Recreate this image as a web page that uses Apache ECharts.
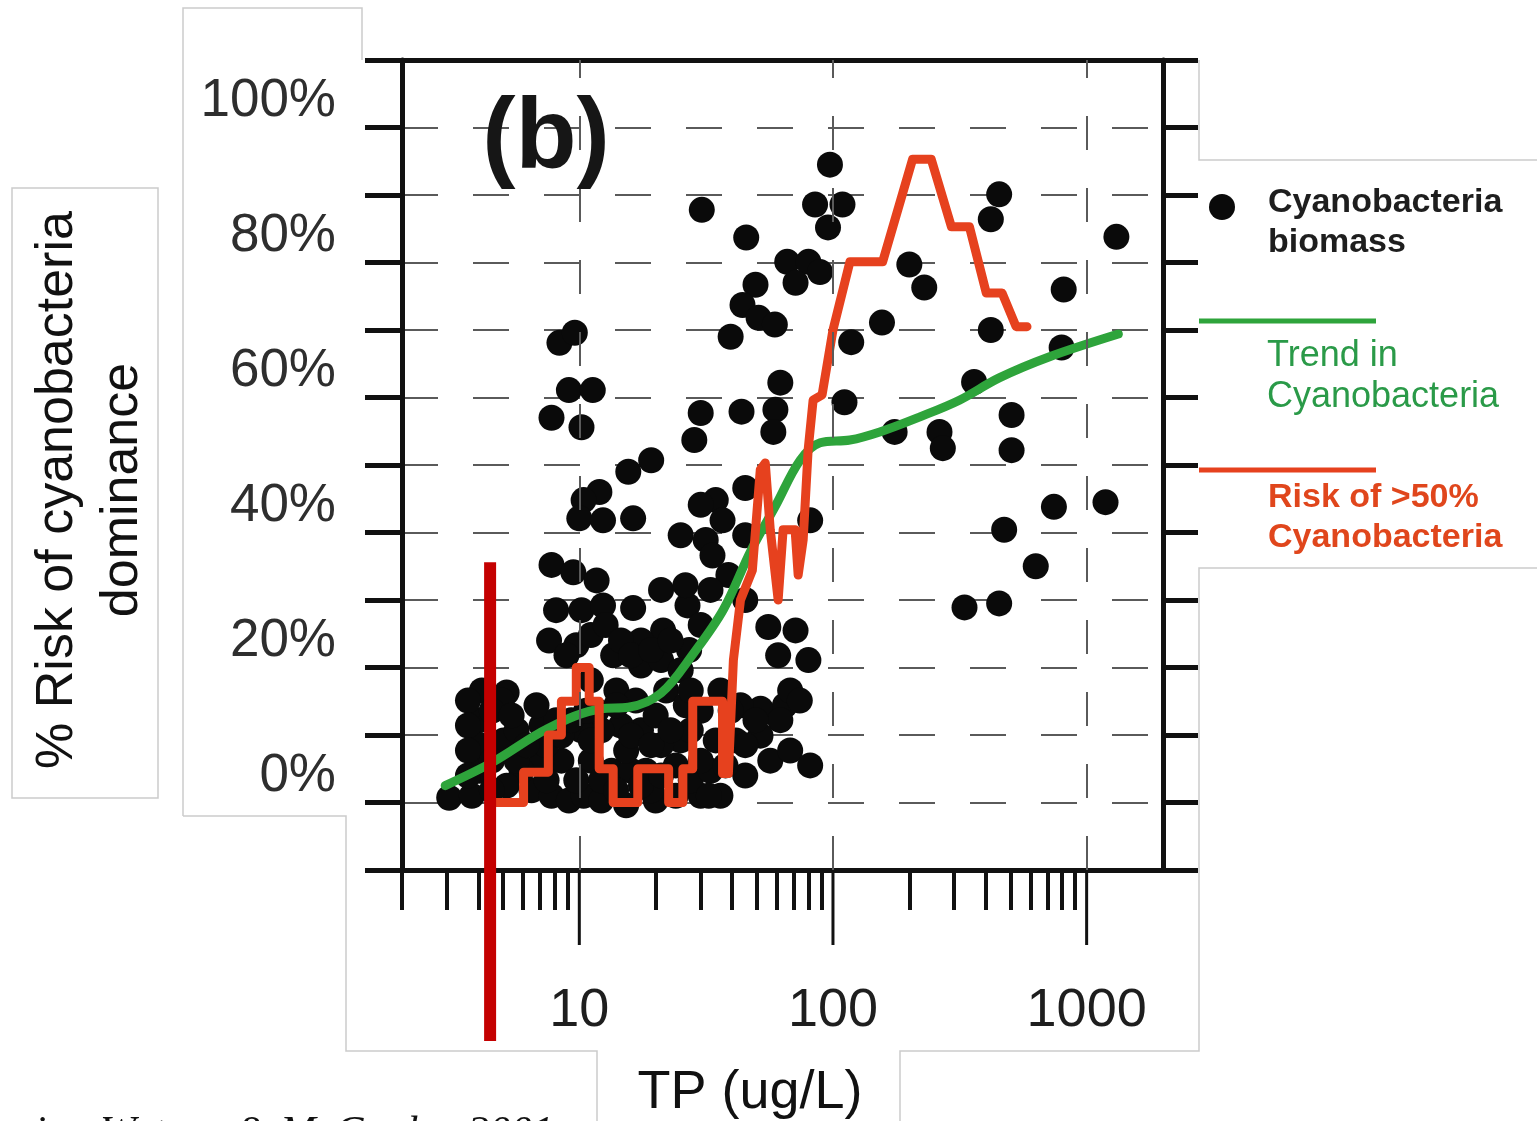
<!DOCTYPE html>
<html>
<head>
<meta charset="utf-8">
<title>Risk of cyanobacteria dominance vs TP</title>
<script src="https://cdn.jsdelivr.net/npm/echarts@6/dist/echarts.min.js"></script>
<style>
  html, body { margin: 0; padding: 0; background: #ffffff; }
  #chart { width: 1537px; height: 1121px; }
</style>
</head>
<body>
<div id="chart"></div>
<script>
// ---- data -------------------------------------------------------------
// Cyanobacteria biomass observations: [TP (ug/L), % cyanobacteria]
const biomass = [
  [97.3, 94.5], [30.4, 87.8], [45.5, 83.7], [85, 88.6], [109, 88.6], [95.6, 85.2],
  [452, 90.1], [419, 86.4], [1310, 83.8], [66, 80.1], [80, 80.1], [71.2, 77.0],
  [88.9, 78.6], [200, 79.7], [229, 76.3], [812, 76.0], [49.5, 76.7], [44, 73.7],
  [50.9, 71.8], [59, 70.8], [39.5, 69.0], [8.35, 68.1], [9.6, 69.6], [156, 71.1],
  [118, 68.2], [419, 70.0], [797, 67.4], [9.1, 61.1], [11.3, 61.1], [62, 62.2],
  [111, 59.3], [360, 62.3], [7.77, 57.0], [10.2, 55.6], [30.1, 57.7], [43.6, 57.9],
  [59.3, 58.2], [58.2, 54.9], [506, 57.4], [28.4, 53.7], [175, 54.9], [263, 54.9],
  [271, 52.5], [506, 52.2], [19.2, 50.7], [15.6, 49.0], [12.0, 46.0], [10.4, 44.8],
  [10.0, 42.1], [12.4, 41.8], [16.3, 42.1], [34.5, 44.8], [30.1, 44.1], [45.1, 46.6],
  [25.1, 39.6], [31.5, 38.9], [36.7, 41.8], [81.3, 41.8], [743, 43.8], [1187, 44.5],
  [473, 40.4], [7.77, 35.2], [9.47, 34.1], [630, 35.0], [330, 28.9], [452, 29.5],
  [8.1, 28.5], [10.2, 28.5], [12.4, 29.2], [16.3, 28.8], [26.7, 29.2], [30.1, 26.3],
  [55.6, 26.0], [71.2, 25.5], [80, 21.1], [60.8, 21.8], [7.6, 24.0], [9.73, 23.3],
  [21.4, 25.5], [17.5, 20.3], [13.6, 21.8], [4.13, 16.6], [5.17, 16.3], [11.1, 18.1],
  [14.0, 16.6], [21.0, 21.1], [27.1, 22.6], [51.8, 13.9], [64.7, 14.4], [45.1, 4.0],
  [56.6, 6.2], [67.8, 7.7], [81.3, 5.5], [62, 12.2], [43.2, 14.4], [36, 16.6],
  [41.4, 9.2], [3.07, 0.7], [4.06, 12.2], [4.06, 8.5], [4.06, 4.7], [4.94, 15.1],
  [5.03, 9.2], [5.66, 10.7], [7.1, 11.4], [8.1, 12.2], [6.48, 1.8], [7.77, 1.0],
  [9.1, 0.3], [10.4, 1.0], [12.2, 0.3], [15.3, -0.4], [20.0, 0.3], [24.0, 1.0],
  [30.1, 1.0], [36, 1.0], [30.1, 13.6], [25.1, 9.2], [21.0, 8.5], [17.5, 10.7],
  [14.6, 11.4], [12.2, 10.7], [10.2, 10.7], [8.5, 6.2], [7.1, 6.2], [5.92, 4.7],
  [5.17, 2.5], [3.77, 1.0], [11.1, 6.2], [13.4, 4.7], [16.0, 4.7], [19.2, 1.8],
  [27.5, 3.3], [32.9, 4.7], [20, 12.9], [16.7, 15.1], [14.0, 14.4], [11.7, 13.6],
  [22.0, 16.6], [17.5, 24.0], [9.73, 3.3], [7.4, 8.5], [15.3, 7.7], [18.3, 4.7],
  [34.5, 9.2], [51.8, 9.9], [27.5, 10.7], [45.1, 30.0], [38.7, 33.7], [32.9, 31.5],
  [21.0, 31.5], [26.2, 32.2], [33.5, 36.6], [45.1, 39.6], [67.8, 16.6], [74, 15.1],
  [3.64, 15.1], [3.64, 11.4], [3.64, 7.7], [3.64, 4.0], [4.52, 13.6], [4.52, 6.2],
  [4.52, 1.8], [5.41, 12.9], [5.66, 6.2], [6.19, 8.5], [6.78, 14.4], [7.43, 3.3],
  [8.5, 9.9], [9.3, 12.2], [10.65, 13.6], [11.1, 9.2], [12.2, 3.3], [13.96, 1.8],
  [16.0, 9.9], [17.5, 2.5], [19.2, 8.5], [21.0, 4.0], [22.9, 10.7], [24.0, 5.5],
  [26.3, 14.4], [30.1, 6.2], [32.4, 1.0], [37.7, 5.5], [39.5, 13.6], [45.1, 8.5],
  [49.5, 12.2], [8.9, 21.8], [11.1, 24.8], [12.7, 26.3], [14.6, 24.0], [16.0, 21.8],
  [19.2, 22.6], [22.9, 24.0], [25.1, 19.6], [27.5, 16.6], [11.7, 32.9]
];

// Smoothed trend in cyanobacteria: [TP, %]
const trend = [
  [2.96, 2.5], [4.52, 5.9], [7.55, 11.0], [12.2, 13.9], [15.6, 14.1], [21.0, 16.2],
  [28.2, 22.1], [37.0, 28.6], [47.3, 37.2], [59.3, 43.9], [74.2, 50.7], [89, 53.3],
  [116.6, 53.7], [152.9, 54.9], [219, 57.1], [315, 59.6], [452, 62.9], [710, 66.0],
  [1334, 69.4]
];

// Risk of >50% cyanobacteria: [TP, %]
const risk = [
  [4.45, 0], [6.03, 0], [6.03, 4.5], [7.55, 4.5], [7.55, 10], [8.5, 10], [8.5, 15],
  [9.73, 15], [9.73, 20], [10.94, 20], [10.94, 15], [11.98, 15], [11.98, 5],
  [13.6, 5], [13.6, 0], [17.0, 0], [17.0, 5], [22.5, 5], [22.5, 0], [25.6, 0],
  [25.6, 5], [28.0, 5], [28.0, 15], [36.7, 15], [36.7, 4.3], [38.7, 4.3],
  [40.5, 21.1], [43.2, 30], [48.1, 34.4], [51.7, 49.3], [54.1, 50.3], [56.6, 40.4],
  [60.8, 30], [63.6, 40.4], [70.9, 40.4], [72.9, 33.7], [76.3, 38.9], [79.8, 52.2],
  [83.5, 59.6], [90.6, 60.4], [100, 70], [116.6, 80.1], [157, 80.1], [206, 95.3],
  [244, 95.3], [293, 85.3], [345, 85.3], [402, 75.5], [464, 75.5], [527, 70.5],
  [582, 70.5]
];

// Axis ticks and labels
const xLabelValues = [10, 100, 1000];
const xMinorTicks = [2, 3, 4, 5, 6, 7, 8, 9, 20, 30, 40, 50, 60, 70, 80, 90,
                     200, 300, 400, 500, 600, 700, 800, 900];
const yLabelValues = [0, 20, 40, 60, 80, 100];

// Threshold marker: TP position and the % value where the bar starts
const thresholdTP = 4.45;
const thresholdTop = 35.6;

// ---- chart ------------------------------------------------------------
const SANS = '"Liberation Sans", Arial, Helvetica, sans-serif';
const GREEN = '#2ea43b';
const RED = '#e6411e';
const INK = '#111111';
const GRID_LINE = { color: '#5a5a5a', width: 2, type: [36, 35] };

const chart = echarts.init(document.getElementById('chart'), null, { renderer: 'canvas' });

const option = {
  animation: false,
  backgroundColor: '#ffffff',
  grid: { left: 402, right: 374, top: 60, bottom: 251, containLabel: false },
  xAxis: [
    {
      type: 'log', logBase: 10, min: 2, max: 2000, position: 'bottom',
      axisLine: { show: true, onZero: false, lineStyle: { color: INK, width: 5 } },
      axisTick: { show: true, customValues: xMinorTicks, length: 40,
                  lineStyle: { color: INK, width: 4 } },
      axisLabel: { show: true, customValues: xLabelValues, margin: 114,
                   fontSize: 54, color: '#1e1e1e', fontFamily: SANS,
                   formatter: v => String(Math.round(v)) },
      splitLine: { show: false }
    },
    {
      type: 'log', logBase: 10, min: 2, max: 2000, position: 'top',
      axisLine: { show: true, onZero: false, lineStyle: { color: INK, width: 5 } },
      axisTick: { show: false }, axisLabel: { show: false }, splitLine: { show: false }
    }
  ],
  yAxis: [
    {
      type: 'value', min: -10, max: 110, interval: 10, position: 'left',
      axisLine: { show: true, onZero: false, lineStyle: { color: INK, width: 5 } },
      axisTick: { show: true, length: 37, lineStyle: { color: INK, width: 5 } },
      axisLabel: {
        margin: 66, fontSize: 53, color: '#2e2e2e', fontFamily: SANS,
        verticalAlign: 'bottom',
        formatter: v => (yLabelValues.indexOf(v) >= 0 ? v + '%' : '')
      },
      splitLine: { show: true, lineStyle: GRID_LINE }
    },
    {
      type: 'value', min: -10, max: 110, interval: 10, position: 'right',
      axisLine: { show: true, onZero: false, lineStyle: { color: INK, width: 5 } },
      axisTick: { show: true, length: 35, lineStyle: { color: INK, width: 5 } },
      axisLabel: { show: false }, splitLine: { show: false }
    }
  ],
  series: [
    {
      // vertical dashed grid lines at each decade
      type: 'line', data: [], z: 1, silent: true,
      markLine: {
        silent: true, symbol: 'none', label: { show: false },
        lineStyle: { color: '#5a5a5a', width: 2, type: [34, 38] },
        data: xLabelValues.map(v => ({ xAxis: v }))
      }
    },
    {
      // long decade ticks hanging below the x axis
      type: 'custom', clip: false, silent: true, z: 5,
      data: xLabelValues.map(v => [v, -10]),
      encode: { x: 0, y: 1 },
      renderItem: (params, api) => {
        const p = api.coord([api.value(0), api.value(1)]);
        return {
          type: 'line',
          shape: { x1: p[0], y1: p[1], x2: p[0], y2: p[1] + 75 },
          style: { stroke: INK, lineWidth: 3 }
        };
      }
    },
    {
      name: 'Cyanobacteria biomass', type: 'scatter', data: biomass,
      symbol: 'circle', symbolSize: 26, z: 2,
      itemStyle: { color: '#0a0a0a', opacity: 1 }
    },
    {
      name: 'Trend in Cyanobacteria', type: 'line', data: trend, z: 3,
      smooth: 0.35, showSymbol: false, symbol: 'none',
      lineStyle: { color: GREEN, width: 9, cap: 'round' }
    },
    {
      name: 'Risk of >50% Cyanobacteria', type: 'line', data: risk, z: 4,
      showSymbol: false, symbol: 'none',
      lineStyle: { color: RED, width: 9, join: 'round', cap: 'round' }
    }
  ]
};
chart.setOption(option);

// ---- annotations ------------------------------------------------------
const barX = chart.convertToPixel({ xAxisIndex: 0 }, thresholdTP);
const barTop = chart.convertToPixel({ yAxisIndex: 0 }, thresholdTop);
const OUTLINE = { stroke: '#cbcbcb', lineWidth: 1.5, fill: null };

chart.setOption({
  graphic: [
    // panel outlines
    { type: 'polyline', shape: { points: [[183, 816], [183, 8], [362, 8], [362, 60]] }, style: OUTLINE, z: 50 },
    { type: 'polyline', shape: { points: [[183, 816], [346, 816], [346, 1051], [597, 1051], [597, 1121]] }, style: OUTLINE, z: 50 },
    { type: 'polyline', shape: { points: [[1199, 60], [1199, 160], [1537, 160]] }, style: OUTLINE, z: 50 },
    { type: 'polyline', shape: { points: [[1537, 568], [1199, 568], [1199, 1051], [900, 1051], [900, 1121]] }, style: OUTLINE, z: 50 },
    { type: 'rect', shape: { x: 12, y: 188, width: 146, height: 610 }, style: OUTLINE, z: 50 },

    // y-axis title
    {
      type: 'text', x: 90, y: 490, rotation: Math.PI / 2, z: 60,
      style: {
        text: '% Risk of cyanobacteria\ndominance', fill: INK,
        font: '52px ' + SANS, align: 'center', verticalAlign: 'middle', lineHeight: 65
      }
    },
    // x-axis title
    {
      type: 'text', x: 750, y: 1093, z: 60,
      style: { text: 'TP (ug/L)', fill: INK, font: '54px ' + SANS, align: 'center', verticalAlign: 'middle' }
    },
    // panel tag
    {
      type: 'text', x: 546, y: 140, z: 60,
      style: { text: '(b)', fill: '#161616', font: 'bold 100px ' + SANS, align: 'center', verticalAlign: 'middle' }
    },
    // source note
    {
      type: 'text', x: -4, y: 1134, z: 60,
      style: { text: 'using Watson & McCauley 2001', fill: INK, font: 'italic 43px "Liberation Serif", "Times New Roman", serif', align: 'left', verticalAlign: 'middle' }
    },

    // legend
    { type: 'circle', shape: { cx: 1222, cy: 207, r: 13 }, style: { fill: '#0a0a0a' }, z: 60 },
    {
      type: 'text', x: 1268, y: 183, z: 60,
      style: { text: 'Cyanobacteria\nbiomass', fill: '#1e1e1e', font: 'bold 34px ' + SANS, align: 'left', verticalAlign: 'top', lineHeight: 40 }
    },
    { type: 'line', shape: { x1: 1199, y1: 321, x2: 1376, y2: 321 }, style: { stroke: GREEN, lineWidth: 5 }, z: 60 },
    {
      type: 'text', x: 1267, y: 336, z: 60,
      style: { text: 'Trend in\nCyanobacteria', fill: '#2a9a48', font: '36px ' + SANS, align: 'left', verticalAlign: 'top', lineHeight: 41 }
    },
    { type: 'line', shape: { x1: 1199, y1: 470, x2: 1376, y2: 470 }, style: { stroke: RED, lineWidth: 5 }, z: 60 },
    {
      type: 'text', x: 1268, y: 478, z: 60,
      style: { text: 'Risk of >50%\nCyanobacteria', fill: '#e0461c', font: 'bold 34px ' + SANS, align: 'left', verticalAlign: 'top', lineHeight: 40 }
    },

    // threshold bar
    { type: 'rect', shape: { x: barX - 6, y: barTop, width: 12, height: 1041 - barTop }, style: { fill: '#c40000' }, z: 80 }
  ]
});
</script>
</body>
</html>
